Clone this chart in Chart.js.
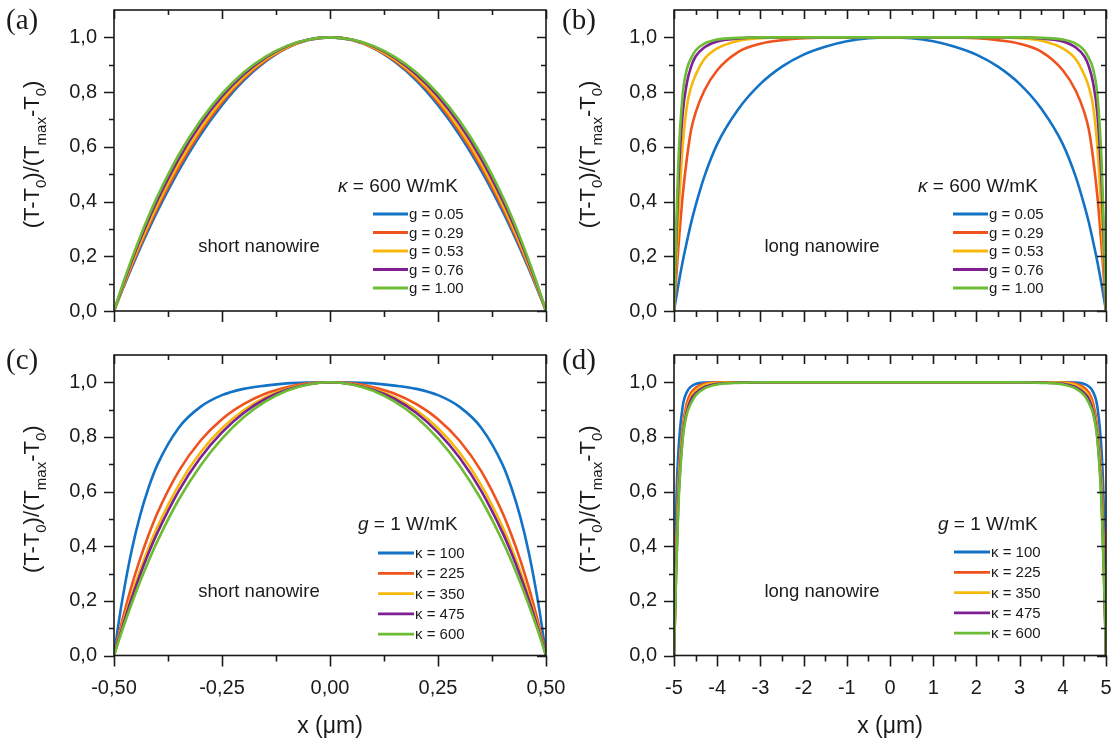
<!DOCTYPE html>
<html>
<head>
<meta charset="utf-8">
<script src="https://cdn.jsdelivr.net/npm/chart.js@4.4.1/dist/chart.umd.min.js"></script>
<style>
  html, body { margin: 0; padding: 0; background: #fff; }
  #wrap { position: relative; width: 1116px; height: 744px; }
  #wrap canvas { position: absolute; }
</style>
</head>
<body>
<div id="wrap">
  <canvas id="pa" width="556" height="340" style="left:0;top:0"></canvas>
  <canvas id="pb" width="560" height="340" style="left:556px;top:0"></canvas>
  <canvas id="pc" width="580" height="404" style="left:0;top:340px"></canvas>
  <canvas id="pd" width="560" height="404" style="left:556px;top:340px"></canvas>
</div>
<script>
// x positions (um)
var xShort = [-0.5,-0.49,-0.48,-0.46,-0.44,-0.42,-0.4,-0.35,-0.3,-0.25,-0.2,-0.15,-0.1,-0.05,0,0.05,0.1,0.15,0.2,0.25,0.3,0.35,0.4,0.42,0.44,0.46,0.48,0.49,0.5];
var xLong = [-5,-4.95,-4.9,-4.8,-4.7,-4.6,-4.5,-4.3,-4,-3.5,-3,-2.5,-2,-1.5,-1,-0.5,0,0.5,1,1.5,2,2.5,3,3.5,4,4.3,4.5,4.6,4.7,4.8,4.9,4.95,5];

// (a) short nanowire, kappa = 600, g varies
var aG005 = [0,.040,.079,.155,.228,.297,.363,.513,.643,.752,.842,.911,.961,.990,1,.990,.961,.911,.842,.752,.643,.513,.363,.297,.228,.155,.079,.040,0];
var aG029 = [0,.042,.083,.162,.237,.308,.375,.526,.655,.762,.849,.915,.962,.991,1,.991,.962,.915,.849,.762,.655,.526,.375,.308,.237,.162,.083,.042,0];
var aG053 = [0,.044,.087,.169,.246,.318,.387,.539,.666,.771,.855,.919,.964,.991,1,.991,.964,.919,.855,.771,.666,.539,.387,.318,.246,.169,.087,.044,0];
var aG076 = [0,.047,.092,.178,.259,.334,.403,.556,.682,.784,.864,.925,.967,.992,1,.992,.967,.925,.864,.784,.682,.556,.403,.334,.259,.178,.092,.047,0];
// g = 1, kappa = 600 (same curve in (a) and (c))
var shortG1K600 = [0,.049,.097,.186,.269,.346,.417,.571,.695,.794,.872,.929,.969,.992,1,.992,.969,.929,.872,.794,.695,.571,.417,.346,.269,.186,.097,.049,0];

// (c) short nanowire, g = 1, kappa varies
var cK100 = [0,.112,.211,.378,.510,.614,.697,.834,.910,.953,.976,.988,.996,.999,1,.999,.996,.988,.976,.953,.910,.834,.697,.614,.510,.378,.211,.112,0];
var cK225 = [0,.069,.133,.250,.352,.441,.520,.675,.786,.865,.920,.958,.982,.996,1,.996,.982,.958,.920,.865,.786,.675,.520,.441,.352,.250,.133,.069,0];
var cK350 = [0,.059,.115,.218,.310,.394,.469,.624,.743,.832,.898,.945,.976,.994,1,.994,.976,.945,.898,.832,.743,.624,.469,.394,.310,.218,.115,.059,0];
var cK475 = [0,.055,.107,.205,.294,.375,.448,.603,.724,.817,.888,.939,.973,.993,1,.993,.973,.939,.888,.817,.724,.603,.448,.375,.294,.205,.107,.055,0];

// (b) long nanowire, kappa = 600, g varies
var bG005 = [0,.048,.095,.18,.255,.325,.385,.49,.61,.74,.83,.893,.937,.966,.986,.997,1,.997,.986,.966,.937,.893,.83,.74,.61,.49,.385,.325,.255,.18,.095,.048,0];
var bG029 = [0,.12,.23,.42,.56,.665,.725,.805,.88,.948,.977,.99,.997,.999,1,1,1,1,1,.999,.997,.99,.977,.948,.88,.805,.725,.665,.56,.42,.23,.12,0];
var bG053 = [0,.17,.335,.6,.75,.82,.862,.92,.96,.988,.997,1,1,1,1,1,1,1,1,1,1,1,.997,.988,.96,.92,.862,.82,.75,.6,.335,.17,0];
var bG076 = [0,.25,.465,.72,.835,.895,.93,.963,.985,.996,1,1,1,1,1,1,1,1,1,1,1,1,1,.996,.985,.963,.93,.895,.835,.72,.465,.25,0];
var longG1K600 = [0,.3,.54,.79,.885,.925,.952,.977,.992,.998,1,1,1,1,1,1,1,1,1,1,1,1,1,.998,.992,.977,.952,.925,.885,.79,.54,.3,0];

// (d) long nanowire, g = 1, kappa varies
var dK100 = [0,.53,.74,.91,.965,.985,.994,.999,1,1,1,1,1,1,1,1,1,1,1,1,1,1,1,1,1,.999,.994,.985,.965,.91,.74,.53,0];
var dK225 = [0,.38,.63,.835,.925,.963,.98,.995,.999,1,1,1,1,1,1,1,1,1,1,1,1,1,1,1,.999,.995,.98,.963,.925,.835,.63,.38,0];
var dK350 = [0,.34,.6,.817,.905,.95,.97,.99,.998,1,1,1,1,1,1,1,1,1,1,1,1,1,1,1,.998,.99,.97,.95,.905,.817,.6,.34,0];
var dK475 = [0,.31,.56,.8,.895,.94,.96,.982,.995,.999,1,1,1,1,1,1,1,1,1,1,1,1,1,.999,.995,.982,.96,.94,.895,.8,.56,.31,0];

var gLabels = ['g = 0.05','g = 0.29','g = 0.53','g = 0.76','g = 1.00'];
var kLabels = ['\u03ba = 100','\u03ba = 225','\u03ba = 350','\u03ba = 475','\u03ba = 600'];

var yTicks = [0,0.2,0.4,0.6,0.8,1.0];
var yTickLabels = ['0,0','0,2','0,4','0,6','0,8','1,0'];
var yMinor = [0.1,0.3,0.5,0.7,0.9];
var xShortTicks = [-0.5,-0.25,0,0.25,0.5];
var xShortLabels = ['-0,50','-0,25','0,00','0,25','0,50'];
var xShortMinor = [-0.375,-0.125,0.125,0.375];
var xLongTicks = [-5,-4,-3,-2,-1,0,1,2,3,4,5];
var xLongLabels = ['-5','-4','-3','-2','-1','0','1','2','3','4','5'];
var xLongMinor = [-4.5,-3.5,-2.5,-1.5,-0.5,0.5,1.5,2.5,3.5,4.5];

var colors = ['#1272c6','#f0521e','#f7b80c','#7e2094','#6cbc34'];
var SANS = '"Liberation Sans", Arial, sans-serif';
var INK = '#1a1a1a';

function setFont(ctx, p, size) {
  if (p[1] === 2) ctx.font = Math.round(size * 0.7) + 'px ' + SANS;
  else if (p[1] === 1) ctx.font = 'italic ' + size + 'px ' + SANS;
  else ctx.font = size + 'px ' + SANS;
}

function drawParts(ctx, parts, x, y, size) {
  // style 0 normal, 1 italic, 2 subscript
  var cx = x;
  parts.forEach(function(p) {
    setFont(ctx, p, size);
    ctx.fillText(p[0], cx, p[1] === 2 ? y + size * 0.3 : y);
    cx += ctx.measureText(p[0]).width;
  });
  return cx - x;
}

function partsWidth(ctx, parts, size) {
  var w = 0;
  parts.forEach(function(p) { setFont(ctx, p, size); w += ctx.measureText(p[0]).width; });
  return w;
}

var deco = {
  id: 'deco',
  afterDatasetsDraw: function(chart) {
    var c = chart.options.plugins.deco;
    var ctx = chart.ctx, ca = chart.chartArea;
    var xs = chart.scales.x, ys = chart.scales.y;
    ctx.save();
    ctx.strokeStyle = INK;
    ctx.fillStyle = INK;
    ctx.lineWidth = 1.6;
    ctx.strokeRect(ca.left, ca.top, ca.right - ca.left, ca.bottom - ca.top);

    ctx.beginPath();
    yTicks.forEach(function(v) {
      var p = Math.round(ys.getPixelForValue(v)) + 0.5;
      ctx.moveTo(ca.left - 10, p); ctx.lineTo(ca.left, p);
      ctx.moveTo(ca.right - 9, p); ctx.lineTo(ca.right, p);
    });
    yMinor.forEach(function(v) {
      var p = Math.round(ys.getPixelForValue(v)) + 0.5;
      ctx.moveTo(ca.left - 5, p); ctx.lineTo(ca.left, p);
      ctx.moveTo(ca.right - 5, p); ctx.lineTo(ca.right, p);
    });
    c.xMajor.forEach(function(v) {
      var p = Math.round(xs.getPixelForValue(v)) + 0.5;
      ctx.moveTo(p, ca.bottom); ctx.lineTo(p, ca.bottom + 11);
      ctx.moveTo(p, ca.top); ctx.lineTo(p, ca.top + 9);
    });
    c.xMinor.forEach(function(v) {
      var p = Math.round(xs.getPixelForValue(v)) + 0.5;
      ctx.moveTo(p, ca.bottom); ctx.lineTo(p, ca.bottom + 6);
      ctx.moveTo(p, ca.top); ctx.lineTo(p, ca.top + 5);
    });
    ctx.stroke();

    // panel letter
    ctx.textBaseline = 'middle';
    ctx.textAlign = 'left';
    ctx.font = '29px "Liberation Serif", "Times New Roman", serif';
    ctx.fillText(c.letter, 6, 21);

    // y title, rotated with subscripts
    var yParts = [['(T-T',0],['0',2],[')/(T',0],['max',2],['-T',0],['0',2],[')',0]];
    ctx.save();
    ctx.translate(31, (ca.top + ca.bottom) / 2 - 6);
    ctx.rotate(-Math.PI / 2);
    ctx.textBaseline = 'alphabetic';
    var tw = partsWidth(ctx, yParts, 22);
    drawParts(ctx, yParts, -tw / 2, 8, 22);
    ctx.restore();

    // x title
    if (c.xTitle) {
      ctx.textAlign = 'center';
      ctx.textBaseline = 'middle';
      ctx.font = '23px ' + SANS;
      ctx.fillText('x (\u03bcm)', (ca.left + ca.right) / 2, 387);
    }

    // note
    ctx.textAlign = 'center';
    ctx.textBaseline = 'middle';
    ctx.font = '18.5px ' + SANS;
    ctx.fillText(c.note, ca.left + c.noteX, ca.top + c.noteY);

    // legend
    ctx.textAlign = 'left';
    ctx.textBaseline = 'middle';
    drawParts(ctx, c.legTitle, ca.left + c.legTitleX, ca.top + c.legTitleY, 19);
    chart.data.datasets.forEach(function(ds, i) {
      var y = ca.top + c.legY + i * c.legDy;
      ctx.strokeStyle = ds.borderColor;
      ctx.lineWidth = 2.8;
      ctx.beginPath();
      ctx.moveTo(ca.left + c.legX1, y);
      ctx.lineTo(ca.left + c.legX2, y);
      ctx.stroke();
      ctx.fillStyle = INK;
      ctx.font = '15px ' + SANS;
      ctx.fillText(ds.label, ca.left + c.legTextX, y + 1);
    });
    ctx.restore();
  }
};

function noPad(s) {
  s.paddingTop = 0; s.paddingBottom = 0; s.paddingLeft = 0; s.paddingRight = 0;
}

function makeChart(id, xs, series, labels, c) {
  var datasets = series.map(function(ys, i) {
    return {
      label: labels[i],
      data: xs.map(function(x, j) { return { x: x, y: ys[j] }; }),
      borderColor: colors[i],
      borderWidth: 2.6,
      pointRadius: 0,
      fill: false,
      cubicInterpolationMode: 'monotone',
      order: series.length - 1 - i
    };
  });
  return new Chart(document.getElementById(id), {
    type: 'line',
    data: { datasets: datasets },
    options: {
      responsive: false,
      animation: false,
      devicePixelRatio: 1,
      layout: { padding: { top: c.top, right: c.right, left: 0, bottom: 0 } },
      plugins: { legend: { display: false }, tooltip: { enabled: false }, deco: c },
      scales: {
        x: {
          type: 'linear', min: xs[0], max: xs[xs.length - 1],
          grid: { display: false, drawTicks: false },
          border: { display: false },
          afterBuildTicks: function(s) { s.ticks = c.xMajor.map(function(v) { return { value: v }; }); },
          afterFit: function(s) { s.height = c.xAxisH; noPad(s); },
          ticks: {
            display: !!c.xLabels, autoSkip: false, maxRotation: 0, padding: 21, color: INK,
            font: { family: SANS, size: 20 },
            callback: function(v, i) { return c.xLabels ? c.xLabels[i] : ''; }
          }
        },
        y: {
          min: 0, max: 1.1,
          grid: { display: false, drawTicks: false },
          border: { display: false },
          afterBuildTicks: function(s) { s.ticks = yTicks.map(function(v) { return { value: v }; }); },
          afterFit: function(s) { s.width = c.yAxisW; noPad(s); },
          ticks: {
            autoSkip: false, padding: 17, color: INK,
            font: { family: SANS, size: 20 },
            callback: function(v, i) { return yTickLabels[i]; }
          }
        }
      }
    },
    plugins: [deco]
  });
}

makeChart('pa', xShort, [aG005, aG029, aG053, aG076, shortG1K600], gLabels, {
  letter: '(a)', top: 10, right: 10, yAxisW: 114, xAxisH: 29,
  xMajor: xShortTicks, xMinor: xShortMinor, xLabels: null, xTitle: false,
  legTitle: [['\u03ba', 1], [' = 600 W/mK', 0]], legTitleX: 224, legTitleY: 177,
  legX1: 259, legX2: 294, legTextX: 295, legY: 204, legDy: 18.5,
  note: 'short nanowire', noteX: 145, noteY: 237
});

makeChart('pb', xLong, [bG005, bG029, bG053, bG076, longG1K600], gLabels, {
  letter: '(b)', top: 10, right: 10, yAxisW: 118, xAxisH: 29,
  xMajor: xLongTicks, xMinor: xLongMinor, xLabels: null, xTitle: false,
  legTitle: [['\u03ba', 1], [' = 600 W/mK', 0]], legTitleX: 244, legTitleY: 177,
  legX1: 279, legX2: 314, legTextX: 315, legY: 204, legDy: 18.5,
  note: 'long nanowire', noteX: 148, noteY: 237
});

makeChart('pc', xShort, [cK100, cK225, cK350, cK475, shortG1K600], kLabels, {
  letter: '(c)', top: 15, right: 34, yAxisW: 114, xAxisH: 88.5,
  xMajor: xShortTicks, xMinor: xShortMinor, xLabels: xShortLabels, xTitle: true,
  legTitle: [['g', 1], [' = 1 W/mK', 0]], legTitleX: 244, legTitleY: 170,
  legX1: 264, legX2: 300, legTextX: 301, legY: 198, legDy: 20.3,
  note: 'short nanowire', noteX: 145, noteY: 237
});

makeChart('pd', xLong, [dK100, dK225, dK350, dK475, longG1K600], kLabels, {
  letter: '(d)', top: 15, right: 10, yAxisW: 118, xAxisH: 88.5,
  xMajor: xLongTicks, xMinor: xLongMinor, xLabels: xLongLabels, xTitle: true,
  legTitle: [['g', 1], [' = 1 W/mK', 0]], legTitleX: 264, legTitleY: 170,
  legX1: 280, legX2: 316, legTextX: 317, legY: 197, legDy: 20.3,
  note: 'long nanowire', noteX: 148, noteY: 237
});
</script>
</body>
</html>
